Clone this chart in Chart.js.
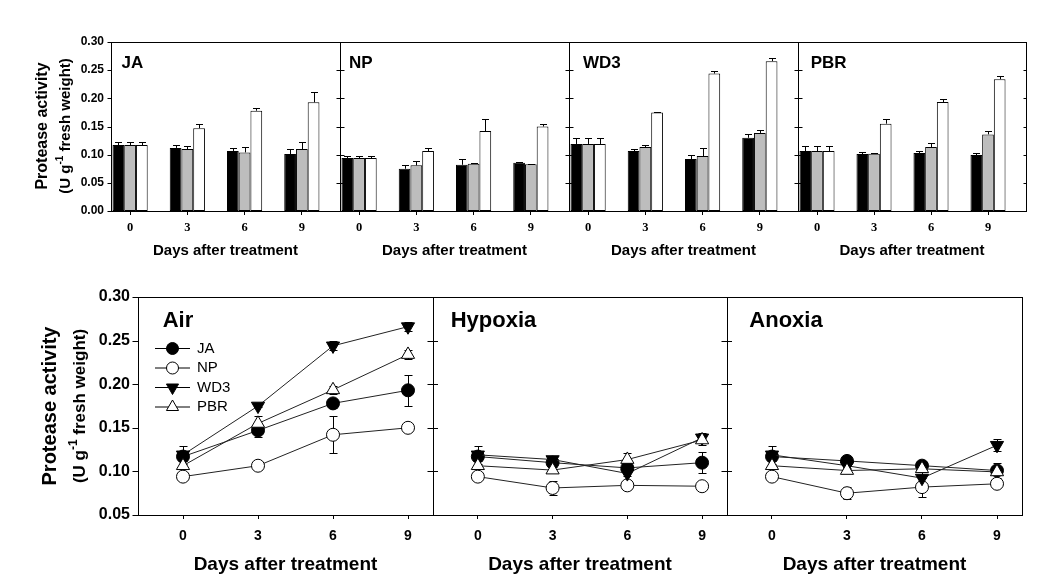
<!DOCTYPE html>
<html><head><meta charset="utf-8">
<script src="https://cdn.jsdelivr.net/npm/chart.js@4.4.1/dist/chart.umd.min.js"></script>
<style>
html,body{margin:0;padding:0;background:#fff;width:1044px;height:588px;overflow:hidden;}
.box{position:absolute;}
canvas{display:block;}
</style></head><body>
<script>
// ---------------- DATA ----------------
const days = [0, 3, 6, 9];
const cultivars = ['JA', 'NP', 'WD3', 'PBR'];
const conditions = ['Air', 'Hypoxia', 'Anoxia'];
const yTicksTop = [0, 0.05, 0.10, 0.15, 0.20, 0.25, 0.30];
const yTicksBottom = [0.05, 0.10, 0.15, 0.20, 0.25, 0.30];

// mean protease activity (U g-1 FW), days 0,3,6,9
const airJA  = [0.117, 0.147, 0.178, 0.193];
const airNP  = [0.094, 0.1065, 0.142, 0.150];
const airWD3 = [0.119, 0.175, 0.244, 0.266];
const airPBR = [0.1065, 0.155, 0.1935, 0.234];

const hypoxiaJA  = [0.117, 0.110, 0.104, 0.110];
const hypoxiaNP  = [0.094, 0.081, 0.084, 0.083];
const hypoxiaWD3 = [0.119, 0.1136, 0.0976, 0.1385];
const hypoxiaPBR = [0.1065, 0.1015, 0.1136, 0.136];

const anoxiaJA  = [0.117, 0.112, 0.1066, 0.101];
const anoxiaNP  = [0.094, 0.075, 0.082, 0.0858];
const anoxiaWD3 = [0.119, 0.1065, 0.0923, 0.130];
const anoxiaPBR = [0.1065, 0.101, 0.103, 0.0994];

// standard errors
const airJAErr  = [0.005, 0.007, 0.005, 0.018];
const airNPErr  = [0.003, 0.005, 0.021, 0.005];
const airWD3Err = [0.010, 0.001, 0.005, 0.005];
const airPBRErr = [0.008, 0.009, 0.005, 0.005];

const hypoxiaJAErr  = [0.005, 0.005, 0.009, 0.012];
const hypoxiaNPErr  = [0.003, 0.008, 0.001, 0.001];
const hypoxiaWD3Err = [0.010, 0.004, 0.014, 0.005];
const hypoxiaPBRErr = [0.008, 0.001, 0.007, 0.006];

const anoxiaJAErr  = [0.005, 0.006, 0.005, 0.009];
const anoxiaNPErr  = [0.003, 0.007, 0.011, 0.001];
const anoxiaWD3Err = [0.010, 0.004, 0.0065, 0.007];
const anoxiaPBRErr = [0.008, 0.003, 0.004, 0.003];

// ---------------- lookup tables built from the arrays ----------------
const values = {
  Air:     {JA: airJA, NP: airNP, WD3: airWD3, PBR: airPBR},
  Hypoxia: {JA: hypoxiaJA, NP: hypoxiaNP, WD3: hypoxiaWD3, PBR: hypoxiaPBR},
  Anoxia:  {JA: anoxiaJA, NP: anoxiaNP, WD3: anoxiaWD3, PBR: anoxiaPBR}
};
const errors = {
  Air:     {JA: airJAErr, NP: airNPErr, WD3: airWD3Err, PBR: airPBRErr},
  Hypoxia: {JA: hypoxiaJAErr, NP: hypoxiaNPErr, WD3: hypoxiaWD3Err, PBR: hypoxiaPBRErr},
  Anoxia:  {JA: anoxiaJAErr, NP: anoxiaNPErr, WD3: anoxiaWD3Err, PBR: anoxiaPBRErr}
};

// ---------------- styles ----------------
const SANS = "'Liberation Sans', Arial, Helvetica, sans-serif";
const SERIF = "'Liberation Serif', 'Times New Roman', serif";
const barColors = {Anoxia: '#000000', Hypoxia: '#bdbdbd', Air: '#ffffff'};
const barOrder = ['Anoxia', 'Hypoxia', 'Air'];
const markerStyle = {
  JA:  {shape: 'circle', fill: '#000', r: 6.5, rot: 0},
  NP:  {shape: 'circle', fill: '#fff', r: 6.5, rot: 0},
  WD3: {shape: 'triangle', fill: '#000', r: 7.6, rot: 180},
  PBR: {shape: 'triangle', fill: '#fff', r: 7.6, rot: 0}
};
const drawOrder = {JA: 3, NP: 2, WD3: 1, PBR: 0};

function makeCanvas(left, top, w, h) {
  const d = document.createElement('div');
  d.className = 'box';
  d.style.left = left + 'px'; d.style.top = top + 'px';
  d.style.width = w + 'px'; d.style.height = h + 'px';
  const c = document.createElement('canvas');
  c.width = w; c.height = h;
  c.style.width = w + 'px'; c.style.height = h + 'px';
  d.appendChild(c); document.body.appendChild(d);
  return c;
}

function hline(ctx, x1, x2, y) { ctx.beginPath(); ctx.moveTo(x1, y); ctx.lineTo(x2, y); ctx.stroke(); }
function vline(ctx, x, y1, y2) { ctx.beginPath(); ctx.moveTo(x, y1); ctx.lineTo(x, y2); ctx.stroke(); }

function drawMarker(ctx, st, x, y, r) {
  ctx.save();
  ctx.fillStyle = st.fill; ctx.strokeStyle = '#000'; ctx.lineWidth = 1;
  ctx.beginPath();
  if (st.shape === 'circle') {
    ctx.arc(x, y, r, 0, Math.PI * 2);
  } else {
    let rad = st.rot * Math.PI / 180;
    ctx.moveTo(x + Math.sin(rad) * r, y - Math.cos(rad) * r);
    for (let k = 0; k < 2; k++) {
      rad += 2 * Math.PI / 3;
      ctx.lineTo(x + Math.sin(rad) * r, y - Math.cos(rad) * r);
    }
    ctx.closePath();
  }
  ctx.fill(); ctx.stroke();
  ctx.restore();
}

function drawYTitle(ctx, cx1, cx2, cy, f1, f2) {
  ctx.save();
  ctx.fillStyle = '#000';
  ctx.textBaseline = 'middle';
  ctx.save();
  ctx.translate(cx1, cy); ctx.rotate(-Math.PI / 2);
  ctx.font = 'bold ' + f1 + 'px ' + SANS; ctx.textAlign = 'center';
  ctx.fillText('Protease activity', 0, 0);
  ctx.restore();
  ctx.save();
  ctx.translate(cx2, cy); ctx.rotate(-Math.PI / 2);
  const fMain = 'bold ' + f2 + 'px ' + SANS;
  const fSup = 'bold ' + Math.round(f2 * 0.68) + 'px ' + SANS;
  const a = '(U g', s = '-1', b = ' fresh weight)';
  ctx.font = fMain; const wa = ctx.measureText(a).width, wb = ctx.measureText(b).width;
  ctx.font = fSup; const ws = ctx.measureText(s).width;
  let x = -(wa + ws + wb) / 2;
  ctx.textAlign = 'left';
  ctx.font = fMain; ctx.fillText(a, x, 0); x += wa;
  ctx.font = fSup; ctx.fillText(s, x, -f2 * 0.38); x += ws;
  ctx.font = fMain; ctx.fillText(b, x, 0);
  ctx.restore();
  ctx.restore();
}

function panelPlugin(p) {
  return {
    id: 'panel' + p.name,
    beforeDatasetsDraw(chart) {
      if (p.kind !== 'line') return;
      const ctx = chart.ctx, ys = chart.scales.y, xs = chart.scales.x;
      ctx.save(); ctx.strokeStyle = '#000'; ctx.lineWidth = 1;
      cultivars.forEach(cv => {
        const v = values[p.name][cv], e = errors[p.name][cv];
        days.forEach((d, i) => {
          const x = Math.round(xs.getPixelForValue(d)) + 0.5;
          const y1 = Math.round(ys.getPixelForValue(v[i] - e[i])) + 0.5;
          const y2 = Math.round(ys.getPixelForValue(v[i] + e[i])) + 0.5;
          vline(ctx, x, y1, y2);
          hline(ctx, x - 4, x + 4, y1);
          hline(ctx, x - 4, x + 4, y2);
        });
      });
      ctx.restore();
    },
    afterDatasetsDraw(chart) {
      if (p.kind !== 'bar') return;
      const ctx = chart.ctx, ys = chart.scales.y;
      ctx.save(); ctx.strokeStyle = '#000'; ctx.lineWidth = 1;
      barOrder.forEach((cond, di) => {
        const meta = chart.getDatasetMeta(di);
        const v = values[cond][p.name], e = errors[cond][p.name];
        meta.data.forEach((el, i) => {
          const x = Math.round(el.x) + 0.5;
          const y0 = ys.getPixelForValue(v[i]);
          const y1 = Math.round(ys.getPixelForValue(v[i] + e[i])) + 0.5;
          vline(ctx, x, y0, y1);
          hline(ctx, x - 3.5, x + 3.5, y1);
        });
      });
      ctx.restore();
    },
    afterDraw(chart) {
      const ctx = chart.ctx, a = chart.chartArea, ys = chart.scales.y;
      ctx.save();
      ctx.strokeStyle = '#000'; ctx.lineWidth = 1;
      const L = Math.round(a.left) + 0.5, R = Math.round(a.right) + 0.5;
      const T = Math.round(a.top) + 0.5, B = Math.round(a.bottom) + 0.5;
      ctx.strokeRect(L, T, R - L, B - T);
      (p.yTicks).forEach(t => {
        const py = Math.round(ys.getPixelForValue(t)) + 0.5;
        if (p.first) hline(ctx, L - p.tk, L, py);
        if (p.last) { if (p.lastTk) hline(ctx, R - p.lastTk, R, py); }
        else hline(ctx, R - p.tk, R + p.tk, py);
      });
      ctx.fillStyle = '#000';
      ctx.font = 'bold ' + p.labelSize + 'px ' + SANS;
      ctx.textAlign = 'left'; ctx.textBaseline = 'alphabetic';
      ctx.fillText(p.label, a.left + p.labelDx, a.top + p.labelDy);
      if (p.yTitle) drawYTitle(ctx, p.yTitle.x1, p.yTitle.x2, p.yTitle.cy - p.canvasTop, p.yTitle.f1, p.yTitle.f2);
      if (p.legend) {
        cultivars.forEach((cv, i) => {
          const yy = a.top + 51.5 + i * 19.5;
          ctx.strokeStyle = '#000'; ctx.lineWidth = 1;
          hline(ctx, a.left + 17, a.left + 52, yy);
          drawMarker(ctx, markerStyle[cv], a.left + 34.5, yy, markerStyle[cv].shape === 'circle' ? 6 : 7);
          ctx.fillStyle = '#000';
          ctx.font = '15px ' + SANS; ctx.textBaseline = 'middle'; ctx.textAlign = 'left';
          ctx.fillText(cv, a.left + 59, yy);
        });
      }
      ctx.restore();
    }
  };
}

function baseScales(p) {
  return {
    x: {
      type: 'linear', min: p.xMin, max: p.xMax, offset: false,
      afterBuildTicks: s => { s.ticks = days.map(d => ({value: d})); },
      afterFit: s => { s.height = p.xAxisH; s.paddingLeft = 0; s.paddingRight = 0; },
      border: {display: false},
      grid: {display: true, drawOnChartArea: false, drawTicks: true, tickLength: 4, color: '#000', lineWidth: 1, offset: false},
      ticks: {color: '#000', padding: p.xTickPad, maxRotation: 0, autoSkip: false,
              font: {family: p.xTickFamily, size: p.xTickSize, weight: 'bold'},
              callback: v => String(v)},
      title: {display: true, text: 'Days after treatment', color: '#000',
              font: {family: SANS, size: p.xTitleSize, weight: 'bold'},
              padding: {top: 0, bottom: p.xTitlePad}}
    },
    y: {
      type: 'linear', min: p.yMin, max: p.yMax, display: !!p.first,
      afterBuildTicks: s => { s.ticks = p.yTicks.map(v => ({value: v})); },
      afterFit: s => { if (p.first) s.width = p.yAxisW; s.paddingTop = 0; s.paddingBottom = 0; },
      border: {display: false},
      grid: {display: false, drawTicks: false},
      ticks: {color: '#000', padding: p.yTickPad, autoSkip: false,
              font: {family: SANS, size: p.yTickSize, weight: 'bold'},
              callback: v => Number(v).toFixed(2)}
    }
  };
}

function buildPanel(p) {
  const c = makeCanvas(p.left, p.top, p.width, p.height);
  p.canvasTop = p.top;
  let datasets;
  if (p.kind === 'bar') {
    datasets = barOrder.map(cond => ({
      label: cond,
      data: days.map((d, i) => ({x: d, y: values[cond][p.name][i]})),
      backgroundColor: barColors[cond], borderColor: '#000', borderWidth: 1,
      borderSkipped: false, categoryPercentage: 0.615, barPercentage: 1.0
    }));
  } else {
    datasets = cultivars.map(cv => ({
      label: cv,
      data: days.map((d, i) => ({x: d, y: values[p.name][cv][i]})),
      borderColor: '#222', borderWidth: 1, fill: false, tension: 0,
      pointStyle: markerStyle[cv].shape, pointRotation: markerStyle[cv].rot,
      pointRadius: markerStyle[cv].r, pointBackgroundColor: markerStyle[cv].fill,
      pointBorderColor: '#000', pointBorderWidth: 1, order: drawOrder[cv]
    }));
  }
  new Chart(c, {
    type: p.kind,
    data: {datasets},
    options: {
      responsive: false, animation: false, devicePixelRatio: 1, events: [],
      layout: {autoPadding: false, padding: {left: p.padL, right: p.padR, top: p.padT, bottom: 0}},
      plugins: {legend: {display: false}, tooltip: {enabled: false}},
      scales: baseScales(p)
    },
    plugins: [panelPlugin(p)]
  });
}

// ---------------- top row: bar charts ----------------
const topCommon = {
  kind: 'bar', top: 32, height: 230, padT: 10, xAxisH: 51,
  xMin: -1, xMax: 11, yMin: 0, yMax: 0.30, yTicks: yTicksTop,
  xTickFamily: SERIF, xTickSize: 12.5, xTickPad: 5, xTitleSize: 15, xTitlePad: 2.5,
  yTickSize: 12, yTickPad: 7, yAxisW: 111, tk: 4, labelSize: 17, labelDy: 26
};
const topLayout = [
  {name: 'JA',  left: 0,   width: 345, padL: 0, padR: 5, first: true, labelDx: 10.5,
   yTitle: {x1: 43, x2: 66, cy: 126, f1: 16, f2: 15}},
  {name: 'NP',  left: 335, width: 239, padL: 5, padR: 5, labelDx: 9},
  {name: 'WD3', left: 564, width: 239, padL: 5, padR: 5, labelDx: 14},
  {name: 'PBR', left: 793, width: 238, padL: 5, padR: 5, last: true, lastTk: 3, labelDx: 12.7}
];
topLayout.forEach(l => buildPanel(Object.assign({}, topCommon, l, {label: l.name})));

// ---------------- bottom row: line charts ----------------
const botCommon = {
  kind: 'line', top: 287, height: 301, padT: 10, xAxisH: 73,
  xMin: -1.8, xMax: 10, yMin: 0.05, yMax: 0.30, yTicks: yTicksBottom,
  xTickFamily: SANS, xTickSize: 14, xTickPad: 9, xTitleSize: 19, xTitlePad: 11.5,
  yTickSize: 16, yTickPad: 8, yAxisW: 138, tk: 6, labelSize: 22, labelDy: 30
};
const botLayout = [
  {name: 'Air',     left: 0,   width: 438, padL: 0, padR: 5, first: true, legend: true, labelDx: 24.7,
   yTitle: {x1: 50, x2: 80, cy: 406, f1: 20, f2: 17}},
  {name: 'Hypoxia', left: 428, width: 304, padL: 5, padR: 5, labelDx: 17.7},
  {name: 'Anoxia',  left: 722, width: 305, padL: 5, padR: 5, last: true, lastTk: 0, labelDx: 22.3}
];
botLayout.forEach(l => buildPanel(Object.assign({}, botCommon, l, {label: l.name})));
</script>
</body></html>
